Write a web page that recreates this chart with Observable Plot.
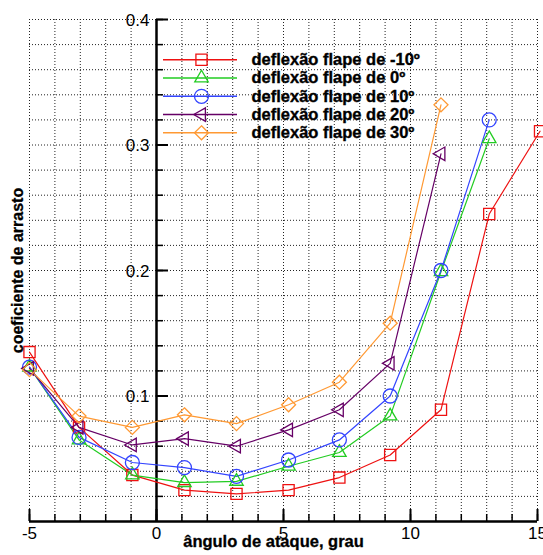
<!DOCTYPE html>
<html>
<head>
<meta charset="utf-8">
<script src="https://cdn.jsdelivr.net/npm/d3@7"></script>
<script src="https://cdn.jsdelivr.net/npm/@observablehq/plot@0.6"></script>
<style>
  html, body { margin: 0; padding: 0; background: #fff; }
  #chart svg { display: block; }
</style>
</head>
<body>
<div id="chart"></div>
<script>
// ---- data ----
const angles = [-5, -3.05, -0.95, 1.1, 3.15, 5.2, 7.2, 9.2, 11.2, 13.1, 15.1];
const cdFlapM10 = [0.135, 0.075, 0.037, 0.025, 0.022, 0.025, 0.035, 0.053, 0.089, 0.245, 0.311];
const cdFlap0   = [0.123, 0.065, 0.037, 0.031, 0.032, 0.044, 0.055, 0.084, 0.199, 0.305];
const cdFlap10  = [0.123, 0.067, 0.047, 0.043, 0.036, 0.049, 0.065, 0.100, 0.200, 0.320];
const cdFlap20  = [0.122, 0.075, 0.061, 0.066, 0.060, 0.073, 0.089, 0.126, 0.293];
const cdFlap30  = [0.121, 0.084, 0.075, 0.085, 0.078, 0.093, 0.111, 0.158, 0.332];
const seriesLabels = ["deflexão flape de -10º", "deflexão flape de 0º", "deflexão flape de 10º", "deflexão flape de 20º", "deflexão flape de 30º"];
const xTickLabels = [-5, 0, 5, 10, 15];
const yTickLabels = [0.1, 0.2, 0.3, 0.4];
const xTitle = "ângulo de ataque, grau";
const yTitle = "coeficiente de arrasto";

// ---- styles ----
const colors = ["#ee1111", "#22cc22", "#3344ff", "#660066", "#ff9933"];
const symbols = ["square", "triangle", "circle", "triangle", "diamond2"];
const rotations = [0, 0, 0, -90, 0];
const radii = [6.3, 5.0, 7, 5.0, 6.3];
const allCd = [cdFlapM10, cdFlap0, cdFlap10, cdFlap20, cdFlap30];

const series = allCd.map((vals, i) => vals.map((v, j) => ({x: angles[j], y: v, s: i})));

const W = 543, H = 555;
const mL = 29, mR = 6, mT = 19, mB = 34;
const xDom = [-5, 15], yDom = [0, 0.4];
const pxX = (W - mL - mR) / (xDom[1] - xDom[0]);
const pxY = (H - mT - mB) / (yDom[1] - yDom[0]);

// legend layout (in pixels, converted to data units)
const legX1 = (163 - mL) / pxX + xDom[0];
const legX2 = (237 - mL) / pxX + xDom[0];
const legXm = (201 - mL) / pxX + xDom[0];
const legXt = (251 - mL) / pxX + xDom[0];
const legY0 = (H - mB - 59.3) / pxY;
const legDy = 18.25 / pxY;
const legend = seriesLabels.map((t, i) => ({t, i, y: legY0 - i * legDy}));

const font = "Liberation Sans, Arial, Helvetica, sans-serif";

const marks = [
  // grid
  Plot.ruleX(d3.range(-5, 16, 1), {stroke: "#222", strokeWidth: 1, strokeDasharray: "1,2"}),
  Plot.ruleY(d3.range(1, 21).map(k => k * 0.02), {stroke: "#222", strokeWidth: 1, strokeDasharray: "1,2"}),
  // axes
  Plot.ruleX([0], {y1: 0, y2: 0.4, stroke: "black", strokeWidth: 2.5}),
  Plot.ruleY([0], {x1: -5, x2: 15, stroke: "black", strokeWidth: 2.5}),
  // y ticks
  Plot.ruleY(d3.range(1, 21).map(k => k * 0.02), {x1: 0, x2: 7 / pxX, stroke: "black", strokeWidth: 1.5}),
  Plot.ruleY(yTickLabels, {x1: 0, x2: 12 / pxX, stroke: "black", strokeWidth: 2}),
  // x ticks
  Plot.ruleX(d3.range(-5, 16, 1), {y1: 0, y2: 7 / pxY, stroke: "black", strokeWidth: 1.5}),
  Plot.ruleX(xTickLabels, {y1: 0, y2: 12 / pxY, stroke: "black", strokeWidth: 2}),
  // tick labels
  Plot.text(yTickLabels, {x: 0, y: d => d, text: d => d.toFixed(1), textAnchor: "end", dx: -7, dy: 1, fontSize: 17, fill: "black", fontFamily: font}),
  Plot.text(xTickLabels, {x: d => d, y: 0, text: d => String(d), dy: 12, fontSize: 17, fill: "black", fontFamily: font}),
  // series
  ...series.map((data, i) => Plot.line(data, {x: "x", y: "y", stroke: colors[i], strokeWidth: 1.2})),
  ...series.map((data, i) => Plot.dot(data, {x: "x", y: "y", stroke: colors[i], fill: "none", symbol: symbols[i], r: radii[i], rotate: rotations[i], strokeWidth: 1.3})),
  // legend
  ...legend.map(d => Plot.ruleY([d], {y: "y", x1: legX1, x2: legX2, stroke: colors[d.i], strokeWidth: 1.5})),
  ...legend.map(d => Plot.dot([d], {x: legXm, y: "y", stroke: colors[d.i], fill: "none", symbol: symbols[d.i], r: radii[d.i], rotate: rotations[d.i], strokeWidth: 1.3})),
  Plot.text(legend, {x: legXt, y: "y", text: "t", textAnchor: "start", fontSize: 16.5, fontWeight: "bold", fill: "black", stroke: "black", strokeWidth: 0.35, fontFamily: font}),
  // axis titles
  Plot.text([xTitle], {frameAnchor: "bottom", text: d => d, textAnchor: "middle", dy: 25, dx: -10, fontSize: 16.5, fontWeight: "bold", fill: "black", stroke: "black", strokeWidth: 0.3, fontFamily: font}),
  Plot.text([yTitle], {frameAnchor: "left", text: d => d, textAnchor: "middle", rotate: -90, dx: -12, dy: 0, fontSize: 16, fontWeight: "bold", fill: "black", stroke: "black", strokeWidth: 0.3, fontFamily: font})
];

const chart = Plot.plot({
  width: W, height: H,
  marginLeft: mL, marginRight: mR, marginTop: mT, marginBottom: mB,
  x: {domain: xDom, axis: null},
  y: {domain: yDom, axis: null},
  style: {background: "white", overflow: "visible", fontFamily: font},
  marks
});
document.getElementById("chart").appendChild(chart);
</script>
</body>
</html>
